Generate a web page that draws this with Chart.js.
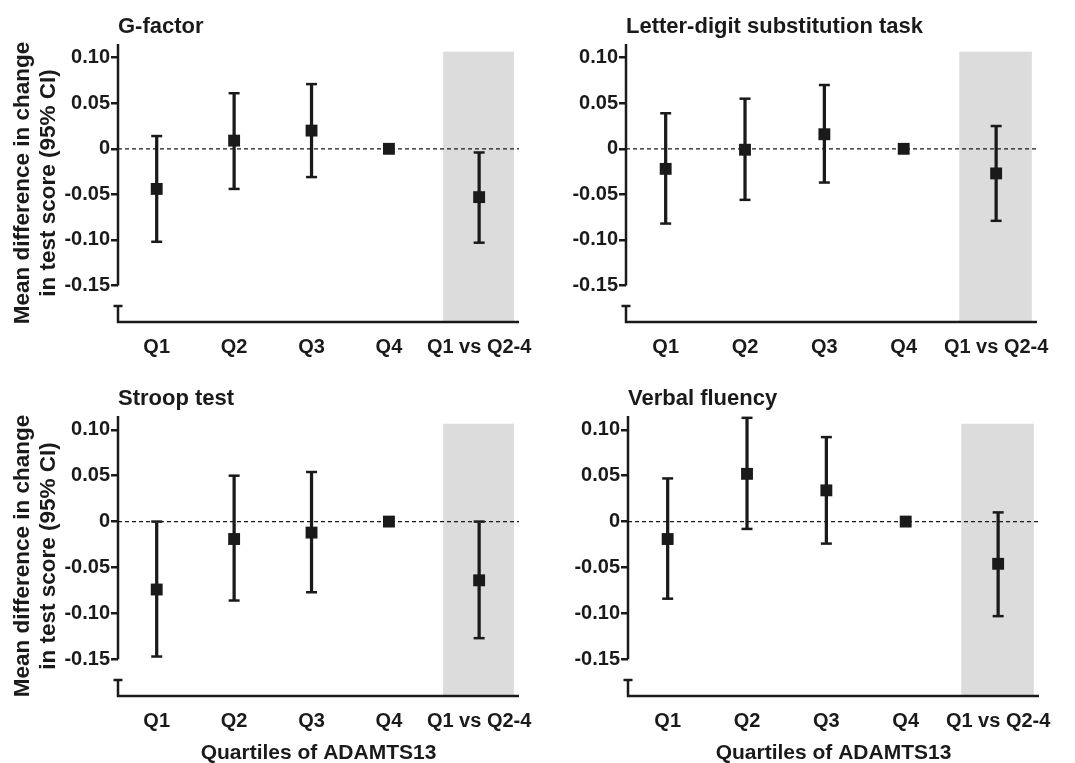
<!DOCTYPE html>
<html>
<head>
<meta charset="utf-8">
<script src="https://cdn.jsdelivr.net/npm/chart.js@4.4.1/dist/chart.umd.min.js"></script>
<style>
  html, body { margin: 0; padding: 0; width: 1075px; height: 763px; overflow: hidden; background: #fff; }
  canvas { position: absolute; }
</style>
</head>
<body>
<canvas id="gf" width="540" height="372" style="left:0;top:0"></canvas>
<canvas id="ld" width="535" height="372" style="left:540px;top:0"></canvas>
<canvas id="st" width="540" height="394" style="left:0;top:372px"></canvas>
<canvas id="vf" width="535" height="394" style="left:540px;top:372px"></canvas>
<script>
var categories = ["Q1", "Q2", "Q3", "Q4", "Q1 vs Q2-4"];
var yTicks = [0.10, 0.05, 0, -0.05, -0.10, -0.15];

// G-factor
var gEst = [-0.044, 0.009, 0.020, 0, -0.053];
var gLo = [-0.102, -0.044, -0.031, null, -0.103];
var gHi = [0.014, 0.061, 0.071, null, -0.004];
// Letter-digit substitution task
var ldEst = [-0.022, -0.001, 0.016, 0, -0.027];
var ldLo = [-0.082, -0.056, -0.037, null, -0.079];
var ldHi = [0.039, 0.055, 0.070, null, 0.025];
// Stroop test
var stEst = [-0.074, -0.019, -0.012, 0, -0.064];
var stLo = [-0.147, -0.086, -0.077, null, -0.127];
var stHi = [0.000, 0.050, 0.054, null, 0.000];
// Verbal fluency
var vfEst = [-0.019, 0.052, 0.034, 0, -0.046];
var vfLo = [-0.084, -0.008, -0.024, null, -0.103];
var vfHi = [0.047, 0.113, 0.092, null, 0.010];

var ink = "#1a1a1a";
var shade = "#dcdcdc";
var fam = "'Liberation Sans', Arial, Helvetica, sans-serif";
var groupGap = 0.165; // extra space before the pooled comparison
var xPos = function (i) { return i === categories.length - 1 ? i + groupGap : i; };

var panelDeco = {
    id: "panelDeco",
    beforeDatasetsDraw: function (chart) {
        var ctx = chart.ctx, a = chart.chartArea, x = chart.scales.x, y = chart.scales.y;
        var sx = xPos(categories.length - 1);
        ctx.save();
        ctx.fillStyle = shade;
        var l = x.getPixelForValue(sx - 0.465), r = x.getPixelForValue(sx + 0.45);
        var t = y.getPixelForValue(0.1066), b = y.getPixelForValue(-0.189);
        ctx.fillRect(l, t, r - l, b - t);
        ctx.strokeStyle = ink;
        ctx.lineWidth = 1.2;
        ctx.setLineDash([4, 3]);
        ctx.beginPath();
        ctx.moveTo(a.left, y.getPixelForValue(0));
        ctx.lineTo(a.right, y.getPixelForValue(0));
        ctx.stroke();
        ctx.restore();
    },
    afterDraw: function (chart, args, opts) {
        var ctx = chart.ctx, a = chart.chartArea, y = chart.scales.y;
        ctx.save();
        ctx.strokeStyle = ink;
        ctx.lineWidth = 2.5;
        ctx.lineCap = "butt";
        ctx.beginPath();
        // broken y axis
        ctx.moveTo(a.left, a.top);
        ctx.lineTo(a.left, y.getPixelForValue(-0.15));
        var bk = y.getPixelForValue(-0.1725);
        ctx.moveTo(a.left - 4.5, bk);
        ctx.lineTo(a.left + 4.5, bk);
        ctx.moveTo(a.left, bk);
        ctx.lineTo(a.left, a.bottom);
        // x axis
        ctx.moveTo(a.left - 1.25, a.bottom);
        ctx.lineTo(a.right, a.bottom);
        ctx.stroke();
        ctx.fillStyle = ink;
        ctx.font = "bold 22px " + fam;
        ctx.textBaseline = "middle";
        ctx.textAlign = "left";
        ctx.fillText(opts.title, a.left, a.top - 17);
        ctx.restore();
    }
};

function makePanel(id, title, est, lo, hi, geo) {
    var bars = [], caps = [], pts = [];
    categories.forEach(function (c, i) {
        pts.push({ x: xPos(i), y: est[i] });
        if (lo[i] !== null && hi[i] !== null) {
            bars.push({ x: xPos(i), y: [lo[i], hi[i]] });
            caps.push({ x: xPos(i), y: lo[i] });
            caps.push({ x: xPos(i), y: hi[i] });
        }
    });
    return new Chart(document.getElementById(id).getContext("2d"), {
        type: "scatter",
        data: {
            datasets: [
                { type: "bar", data: bars, backgroundColor: ink, barThickness: 2.6, borderWidth: 0, order: 3 },
                { type: "scatter", data: caps, pointStyle: "line", pointRadius: 5.5, pointBorderWidth: 2.5,
                  pointBorderColor: ink, pointBackgroundColor: ink, order: 2 },
                { type: "scatter", data: pts, pointStyle: "rect", pointRadius: 8.4, pointBorderWidth: 0,
                  pointBackgroundColor: ink, order: 1 }
            ]
        },
        options: {
            responsive: false,
            animation: false,
            events: [],
            layout: { autoPadding: false, padding: { top: 44, right: geo.padRight, left: 0, bottom: 0 } },
            plugins: {
                legend: { display: false },
                tooltip: { enabled: false },
                panelDeco: { title: title }
            },
            scales: {
                x: {
                    type: "linear",
                    offset: false,
                    min: -0.5,
                    max: 4.68,
                    afterBuildTicks: function (s) {
                        s.ticks = categories.map(function (c, i) { return { value: xPos(i) }; });
                    },
                    afterFit: function (s) { s.height = geo.xHeight; s.paddingLeft = 0; s.paddingRight = 0; },
                    grid: { display: false, drawTicks: false, offset: false },
                    border: { display: false },
                    ticks: {
                        autoSkip: false,
                        maxRotation: 0,
                        padding: 13,
                        color: ink,
                        font: { family: fam, size: 20, weight: "bold" },
                        callback: function (v, i) { return categories[i]; }
                    },
                    title: {
                        display: geo.xTitle,
                        text: "Quartiles of ADAMTS13",
                        color: ink,
                        padding: { top: 0, bottom: 2.5 },
                        font: { family: fam, size: 21, weight: "bold", lineHeight: 1 }
                    }
                },
                y: {
                    min: -0.19,
                    max: 0.115,
                    afterBuildTicks: function (s) {
                        s.ticks = yTicks.map(function (v) { return { value: v }; });
                    },
                    afterFit: function (s) { s.width = geo.yWidth; s.paddingTop = 0; s.paddingBottom = 0; },
                    grid: { display: true, drawOnChartArea: false, drawTicks: true, tickLength: 7, lineWidth: 2.5, color: ink },
                    border: { display: false },
                    ticks: {
                        padding: 1,
                        color: ink,
                        font: { family: fam, size: 20, weight: "bold" },
                        callback: function (v) { return v === 0 ? "0" : v.toFixed(2); }
                    },
                    title: {
                        display: geo.yTitle,
                        text: ["Mean difference in change", "in test score (95% CI)"],
                        color: ink,
                        padding: { top: 10, bottom: 0 },
                        font: { family: fam, size: 22.5, weight: "bold", lineHeight: "26px" }
                    }
                }
            }
        },
        plugins: [panelDeco]
    });
}

makePanel("gf", "G-factor", gEst, gLo, gHi, { padRight: 21, yWidth: 118, xHeight: 50, yTitle: true, xTitle: false });
makePanel("ld", "Letter-digit substitution task", ldEst, ldLo, ldHi, { padRight: 38, yWidth: 86, xHeight: 50, yTitle: false, xTitle: false });
makePanel("st", "Stroop test", stEst, stLo, stHi, { padRight: 21, yWidth: 118, xHeight: 70, yTitle: true, xTitle: true });
makePanel("vf", "Verbal fluency", vfEst, vfLo, vfHi, { padRight: 36, yWidth: 88, xHeight: 70, yTitle: false, xTitle: true });
</script>
</body>
</html>
